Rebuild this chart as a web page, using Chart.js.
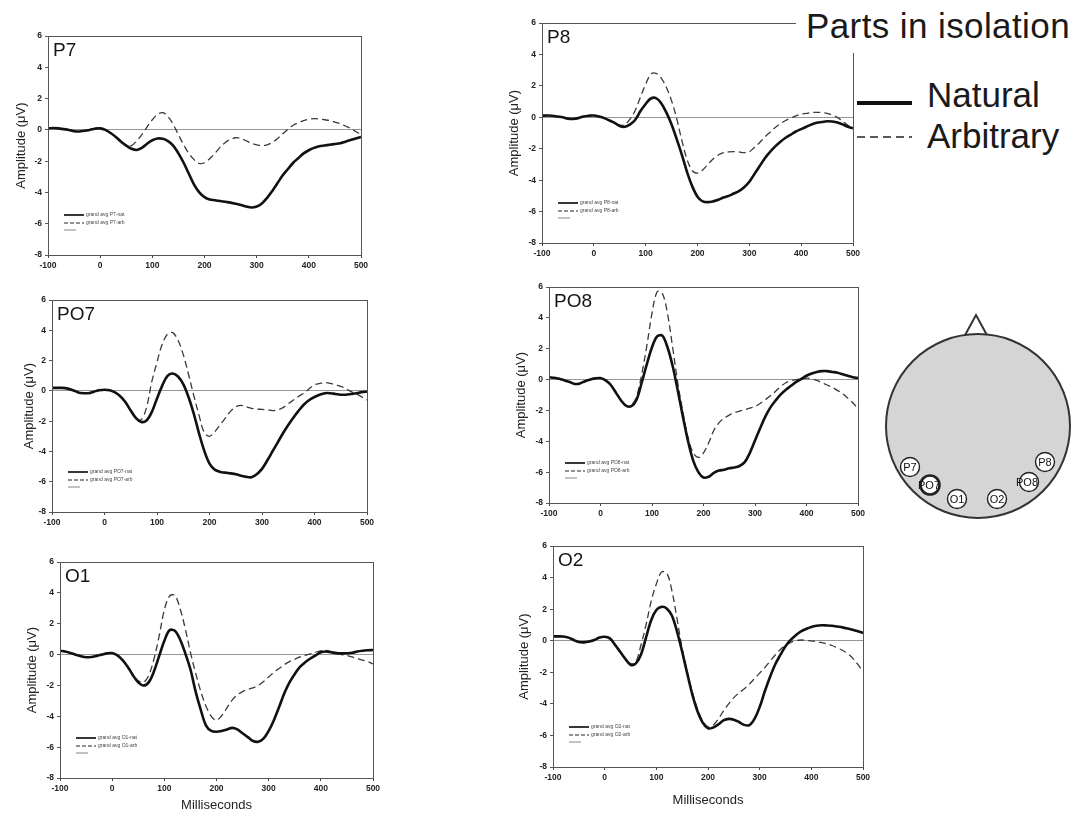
<!DOCTYPE html>
<html><head><meta charset="utf-8">
<script src="https://cdn.jsdelivr.net/npm/chart.js@4"></script>
<style>
html,body{margin:0;padding:0;background:#fff;}
body{width:1080px;height:814px;overflow:hidden;position:relative;font-family:"Liberation Sans",Arial,sans-serif;}
.panel{position:absolute;z-index:1;}
.cover{position:absolute;left:796px;top:0;width:284px;height:53px;background:#fff;z-index:4;}
.lg{position:absolute;z-index:5;font-size:35px;line-height:35px;color:#1a1a1a;white-space:nowrap;}
.head{position:absolute;left:870px;top:300px;z-index:3;}
</style></head><body>
<div class="cover"></div>
<div class="lg" style="left:806px;top:8px;letter-spacing:0.4px;">Parts in isolation</div>
<div class="lg" style="left:927px;top:77px;">Natural</div>
<div class="lg" style="left:927px;top:118px;">Arbitrary</div>
<svg class="lg" style="left:850px;top:90px;" width="70" height="60">
  <line x1="7" y1="13" x2="62" y2="13" stroke="#111" stroke-width="4"/>
  <line x1="7" y1="47" x2="62" y2="47" stroke="#222" stroke-width="1.6" stroke-dasharray="8,5"/>
</svg>
<svg class="head" width="210" height="230" viewBox="870 300 210 230">
  <polyline points="964,337 976,315 988,337" fill="none" stroke="#333" stroke-width="2"/>
  <circle cx="978" cy="426" r="92" fill="#d5d5d5" stroke="#333" stroke-width="2"/>
  <g font-family="Liberation Sans, Arial, sans-serif" font-size="11" text-anchor="middle" fill="#111">
    <circle cx="910" cy="467" r="9.5" fill="#fff" stroke="#222" stroke-width="1.4"/><text x="910" y="471">P7</text>
    <circle cx="930" cy="485" r="9.5" fill="#fff" stroke="#222" stroke-width="2.6"/><text x="929" y="489">PO7</text>
    <circle cx="957" cy="499" r="9.5" fill="#fff" stroke="#222" stroke-width="1.4"/><text x="957" y="503">O1</text>
    <circle cx="997" cy="499" r="9.5" fill="#fff" stroke="#222" stroke-width="1.4"/><text x="997" y="503">O2</text>
    <circle cx="1029" cy="482" r="9.5" fill="#fff" stroke="#222" stroke-width="1.4"/><text x="1027" y="486">PO8</text>
    <circle cx="1045" cy="462" r="9.5" fill="#fff" stroke="#222" stroke-width="1.4"/><text x="1045" y="466">P8</text>
  </g>
</svg>
<script>
// time axis (ms)
const times = [-100,-90,-80,-70,-60,-50,-40,-30,-20,-10,0,10,20,30,40,50,60,70,80,90,100,110,120,130,140,150,160,170,180,190,200,210,220,230,240,250,260,270,280,290,300,310,320,330,340,350,360,370,380,390,400,410,420,430,440,450,460,470,480,490,500];
const xTicks = [-100,0,100,200,300,400,500];
const yTicks = [-8,-6,-4,-2,0,2,4,6];

const p7Natural = [0.1,0.12,0.1,0.05,0,-0.08,-0.1,-0.05,0,0.08,0.1,0,-0.2,-0.45,-0.75,-1,-1.2,-1.28,-1.15,-0.88,-0.66,-0.55,-0.57,-0.72,-1,-1.5,-2.1,-2.8,-3.5,-4,-4.3,-4.45,-4.5,-4.55,-4.6,-4.65,-4.72,-4.8,-4.9,-4.96,-4.9,-4.7,-4.35,-3.9,-3.4,-2.9,-2.5,-2.1,-1.8,-1.5,-1.3,-1.15,-1.05,-1,-0.95,-0.9,-0.85,-0.75,-0.65,-0.55,-0.45];
const p7Arbitrary = [0.1,0.12,0.1,0.05,0,-0.08,-0.1,-0.05,0,0.08,0.1,0,-0.2,-0.45,-0.75,-0.95,-1,-0.7,-0.3,0.2,0.65,1,1.1,0.85,0.35,-0.3,-0.95,-1.5,-1.9,-2.15,-2.1,-1.85,-1.5,-1.1,-0.8,-0.6,-0.5,-0.55,-0.7,-0.85,-0.95,-1,-0.95,-0.8,-0.55,-0.25,0.05,0.3,0.45,0.6,0.68,0.72,0.7,0.65,0.6,0.5,0.4,0.25,0.1,-0.1,-0.3];

const p8Natural = [0.1,0.12,0.1,0.05,0,-0.08,-0.1,-0.05,0.05,0.1,0.12,0.05,-0.05,-0.2,-0.35,-0.55,-0.6,-0.45,-0.15,0.4,0.85,1.2,1.22,0.9,0.3,-0.45,-1.4,-2.4,-3.5,-4.4,-5.05,-5.35,-5.4,-5.35,-5.25,-5.1,-5,-4.85,-4.7,-4.45,-4.1,-3.6,-3.1,-2.6,-2.2,-1.85,-1.55,-1.3,-1.1,-0.9,-0.75,-0.6,-0.45,-0.35,-0.3,-0.25,-0.27,-0.33,-0.45,-0.6,-0.7];
const p8Arbitrary = [0.1,0.12,0.1,0.05,0,-0.08,-0.1,-0.05,0.05,0.1,0.12,0.05,-0.05,-0.2,-0.35,-0.5,-0.45,-0.1,0.45,1.3,2.1,2.75,2.8,2.5,1.9,1.05,-0.1,-1.5,-2.7,-3.4,-3.55,-3.35,-3,-2.65,-2.4,-2.25,-2.2,-2.18,-2.2,-2.25,-2.2,-1.9,-1.6,-1.25,-0.95,-0.65,-0.4,-0.2,-0.05,0.1,0.2,0.25,0.3,0.32,0.3,0.25,0.15,0,-0.25,-0.5,-0.7];

const po7Natural = [0.2,0.2,0.2,0.15,0.05,-0.1,-0.15,-0.15,-0.05,0.05,0.08,0.05,-0.1,-0.35,-0.75,-1.3,-1.8,-2.05,-1.95,-1.4,-0.5,0.35,1,1.15,0.95,0.45,-0.4,-1.5,-2.8,-3.95,-4.8,-5.2,-5.35,-5.4,-5.45,-5.5,-5.6,-5.68,-5.7,-5.5,-5.15,-4.6,-4,-3.4,-2.8,-2.25,-1.75,-1.3,-0.9,-0.6,-0.4,-0.25,-0.15,-0.15,-0.2,-0.25,-0.25,-0.2,-0.15,-0.08,-0.05];
const po7Arbitrary = [0.2,0.2,0.2,0.15,0.05,-0.1,-0.15,-0.15,-0.05,0.05,0.08,0.05,-0.1,-0.35,-0.75,-1.3,-1.8,-1.9,-1.1,0.6,1.9,3.1,3.75,3.85,3.35,2.4,1.1,-0.3,-1.6,-2.75,-3,-2.7,-2.25,-1.8,-1.35,-1.05,-0.95,-1.05,-1.15,-1.2,-1.22,-1.25,-1.3,-1.25,-1.1,-0.85,-0.6,-0.35,-0.15,0.15,0.4,0.5,0.55,0.5,0.4,0.3,0.15,-0.05,-0.2,-0.4,-0.6];

const po8Natural = [0.15,0.12,0.05,-0.05,-0.15,-0.28,-0.25,-0.1,0,0.08,0.1,-0.05,-0.35,-0.85,-1.35,-1.7,-1.72,-1.3,-0.2,1,2.1,2.8,2.85,2.1,0.9,-0.7,-2.4,-4,-5.25,-6,-6.35,-6.3,-6.05,-5.9,-5.85,-5.75,-5.7,-5.6,-5.35,-4.75,-3.95,-3.15,-2.4,-1.8,-1.35,-0.95,-0.65,-0.4,-0.15,0.05,0.25,0.4,0.5,0.55,0.55,0.5,0.45,0.35,0.25,0.15,0.1];
const po8Arbitrary = [0.15,0.12,0.05,-0.05,-0.15,-0.28,-0.25,-0.1,0,0.08,0.1,-0.05,-0.35,-0.85,-1.35,-1.7,-1.65,-1.1,0.35,2.2,4.3,5.7,5.6,4.3,2.1,-0.2,-2.1,-3.75,-4.75,-5.05,-4.75,-4.1,-3.3,-2.8,-2.5,-2.3,-2.15,-2.05,-1.95,-1.85,-1.75,-1.55,-1.3,-1.05,-0.75,-0.45,-0.2,-0.05,0,0.05,0.1,0.05,-0.05,-0.2,-0.35,-0.5,-0.7,-0.9,-1.2,-1.5,-1.9];

const o1Natural = [0.25,0.2,0.1,0,-0.1,-0.17,-0.15,-0.08,0,0.08,0.1,-0.05,-0.35,-0.8,-1.35,-1.8,-2,-1.8,-1.1,-0.1,0.9,1.58,1.55,1,0.1,-0.95,-2.4,-3.6,-4.6,-4.95,-5,-4.95,-4.85,-4.75,-4.85,-5.1,-5.35,-5.6,-5.65,-5.45,-4.95,-4.25,-3.4,-2.5,-1.8,-1.25,-0.8,-0.5,-0.25,-0.05,0.15,0.2,0.15,0.1,0.08,0.09,0.12,0.2,0.25,0.28,0.3];
const o1Arbitrary = [0.25,0.2,0.1,0,-0.1,-0.17,-0.15,-0.08,0,0.08,0.1,-0.05,-0.35,-0.8,-1.3,-1.7,-1.8,-1.35,-0.3,1.2,2.9,3.8,3.85,3,1.7,0.15,-1.2,-2.4,-3.35,-4,-4.25,-3.95,-3.45,-2.95,-2.6,-2.4,-2.25,-2.15,-2,-1.75,-1.45,-1.15,-0.9,-0.65,-0.45,-0.3,-0.15,-0.05,0.05,0.15,0.25,0.28,0.2,0.1,0,-0.06,-0.15,-0.25,-0.35,-0.45,-0.6];

const o2Natural = [0.28,0.28,0.27,0.2,0.05,-0.08,-0.1,-0.05,0.05,0.2,0.25,0.15,-0.25,-0.7,-1.15,-1.52,-1.45,-0.9,0.2,1.3,1.95,2.15,2.05,1.6,0.6,-0.7,-2.1,-3.45,-4.5,-5.2,-5.55,-5.5,-5.3,-5.05,-4.95,-5,-5.15,-5.33,-5.35,-4.95,-4.2,-3.2,-2.3,-1.5,-0.9,-0.35,0.05,0.35,0.6,0.75,0.88,0.95,0.98,0.97,0.95,0.9,0.85,0.78,0.7,0.6,0.5];
const o2Arbitrary = [0.28,0.28,0.27,0.2,0.05,-0.08,-0.1,-0.05,0.05,0.2,0.25,0.15,-0.25,-0.7,-1.15,-1.45,-1.35,-0.3,1,2.5,3.6,4.35,4.3,3.2,1.4,-0.5,-2,-3.3,-4.35,-5.1,-5.45,-5.35,-4.95,-4.45,-4,-3.6,-3.3,-3.05,-2.75,-2.4,-2.05,-1.7,-1.3,-0.9,-0.55,-0.3,-0.1,0,0.05,0.02,0,-0.05,-0.12,-0.2,-0.3,-0.45,-0.6,-0.8,-1.1,-1.5,-1.95];

const panelNames = ['P7','P8','PO7','PO8','O1','O2'];
const naturalSeries = [p7Natural,p8Natural,po7Natural,po8Natural,o1Natural,o2Natural];
const arbitrarySeries = [p7Arbitrary,p8Arbitrary,po7Arbitrary,po8Arbitrary,o1Arbitrary,o2Arbitrary];
const miniLegendNat = ['grand avg P7-nat','grand avg P8-nat','grand avg PO7-nat','grand avg PO8-nat','grand avg O1-nat','grand avg O2-nat'];
const miniLegendArb = ['grand avg P7-arb','grand avg P8-arb','grand avg PO7-arb','grand avg PO8-arb','grand avg O1-arb','grand avg O2-arb'];

// layout (page px) of each plot area
const layout = [
  {left:48, right:361, top:36, bottom:255, W:34, H:22},
  {left:542, right:853, top:23, bottom:243, W:35, H:22},
  {left:52, right:367, top:300, bottom:512, W:30, H:22},
  {left:549, right:858, top:287, bottom:503, W:35, H:22},
  {left:60, right:373, top:562, bottom:778, W:35, H:40, xTitle:true, tpb:5},
  {left:553, right:863, top:546, bottom:767, W:36, H:41, xTitle:true, tpb:0}
];

const FONT = '"Liberation Sans", Arial, sans-serif';
const T = 8, R = 16;

const panelDecor = {
  id:'panelDecor',
  afterDraw(chart, args, opts) {
    const {ctx, chartArea:a} = chart;
    ctx.save();
    ctx.strokeStyle = '#555'; ctx.lineWidth = 1;
    ctx.strokeRect(Math.round(a.left)+0.5, Math.round(a.top)+0.5, Math.round(a.right-a.left), Math.round(a.bottom-a.top));
    ctx.fillStyle = '#151515';
    ctx.font = '19px ' + FONT;
    ctx.textBaseline = 'alphabetic';
    ctx.fillText(opts.label, a.left + 5, a.top + 20);
    // small inner legend
    const x0 = a.left + 16, y0 = a.bottom - 40;
    ctx.strokeStyle = '#222'; ctx.lineWidth = 1.8;
    ctx.beginPath(); ctx.moveTo(x0, y0); ctx.lineTo(x0 + 20, y0); ctx.stroke();
    ctx.lineWidth = 1; ctx.setLineDash([4,2]);
    ctx.beginPath(); ctx.moveTo(x0, y0 + 8); ctx.lineTo(x0 + 20, y0 + 8); ctx.stroke();
    ctx.setLineDash([]);
    ctx.strokeStyle = '#999'; ctx.lineWidth = 1.2;
    ctx.beginPath(); ctx.moveTo(x0, y0 + 15); ctx.lineTo(x0 + 12, y0 + 15); ctx.stroke();
    ctx.fillStyle = '#444';
    ctx.font = '5px ' + FONT;
    ctx.textBaseline = 'middle';
    ctx.fillText(opts.nat, x0 + 22, y0);
    ctx.fillText(opts.arb, x0 + 22, y0 + 8);
    ctx.restore();
  }
};

layout.forEach((L, i) => {
  const w = L.right - L.left + L.W + R;
  const h = L.bottom - L.top + T + L.H;
  const div = document.createElement('div');
  div.className = 'panel';
  div.style.left = (L.left - L.W) + 'px';
  div.style.top = (L.top - T) + 'px';
  div.style.width = w + 'px';
  div.style.height = h + 'px';
  const cv = document.createElement('canvas');
  cv.width = w; cv.height = h;
  cv.style.width = w + 'px'; cv.style.height = h + 'px';
  div.appendChild(cv);
  document.body.appendChild(div);

  new Chart(cv.getContext('2d'), {
    type: 'line',
    data: {
      datasets: [
        {label: 'Natural', data: times.map((t, k) => ({x: t, y: naturalSeries[i][k]})),
         borderColor: '#111', borderWidth: 2.6, pointRadius: 0, tension: 0.35, fill: false, order: 1},
        {label: 'Arbitrary', data: times.map((t, k) => ({x: t, y: arbitrarySeries[i][k]})),
         borderColor: '#3a3a3a', borderWidth: 1.3, borderDash: [7,4], pointRadius: 0, tension: 0.35, fill: false, order: 2}
      ]
    },
    options: {
      responsive: false, animation: false, devicePixelRatio: 1,
      layout: {padding: {top: T, right: R, left: 0, bottom: 0}},
      plugins: {legend: {display: false}, tooltip: {enabled: false},
                panelDecor: {label: panelNames[i], nat: miniLegendNat[i], arb: miniLegendArb[i]}},
      scales: {
        x: {
          type: 'linear', min: xTicks[0], max: xTicks[xTicks.length-1],
          afterBuildTicks: s => { s.ticks = xTicks.map(v => ({value: v})); },
          afterFit: s => { s.height = L.H; },
          ticks: {font: {size: 8.5, weight: 'bold', family: FONT}, color: '#222', padding: 3, maxRotation: 0, autoSkip: false},
          grid: {drawOnChartArea: false, tickLength: 3, tickColor: '#444', color: '#444'},
          border: {color: '#555', width: 1},
          title: {display: !!L.xTitle, text: 'Milliseconds', font: {size: 13, family: FONT}, color: '#222', padding: {top: 0, bottom: L.tpb || 0}}
        },
        y: {
          type: 'linear', min: yTicks[0], max: yTicks[yTicks.length-1],
          afterBuildTicks: s => { s.ticks = yTicks.map(v => ({value: v})); },
          afterFit: s => { s.width = L.W; },
          ticks: {font: {size: 8.5, weight: 'bold', family: FONT}, color: '#222', padding: 3, autoSkip: false},
          grid: {color: c => (c.tick && c.tick.value === 0) ? '#8a8a8a' : 'rgba(0,0,0,0)', lineWidth: 0.9, tickLength: 3, tickColor: '#444'},
          border: {color: '#555', width: 1},
          title: {display: true, text: 'Amplitude (μV)', font: {size: 13, family: FONT}, color: '#222', padding: {top: 0, bottom: 0}}
        }
      }
    },
    plugins: [panelDecor]
  });
});
</script>
</body></html>
